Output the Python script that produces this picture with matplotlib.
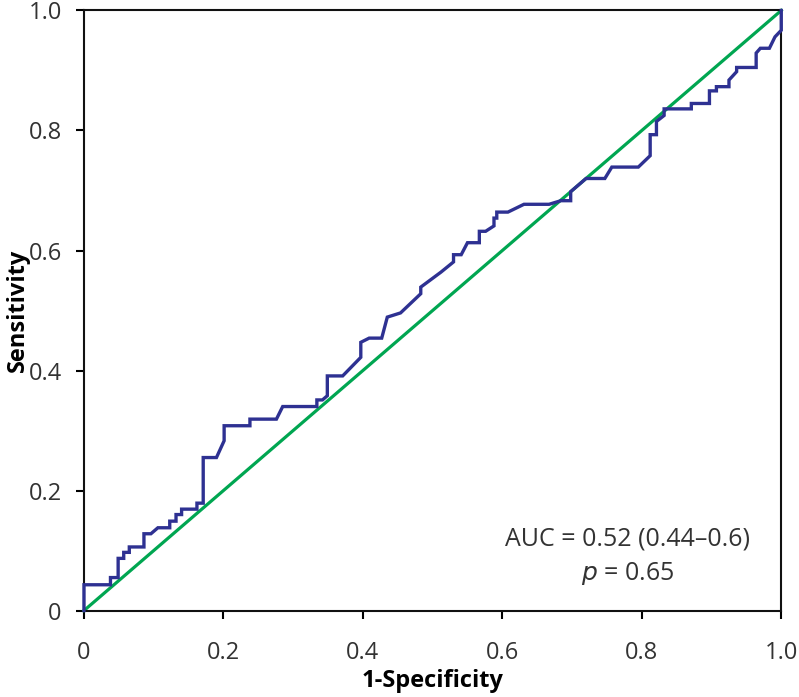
import matplotlib
matplotlib.use('Agg')
import matplotlib.pyplot as plt

plt.rcParams['font.family'] = ['Open Sans', 'DejaVu Sans']

# ROC curve vertices
fpr = [0.000, 0.000, 0.038, 0.038, 0.049, 0.049, 0.057, 0.057, 0.065, 0.065,
       0.086, 0.086, 0.096, 0.106, 0.123, 0.123, 0.132, 0.132, 0.140, 0.140,
       0.162, 0.162, 0.171, 0.171, 0.190, 0.201, 0.201, 0.238, 0.238, 0.276,
       0.285, 0.334, 0.334, 0.342, 0.349, 0.349, 0.371, 0.397, 0.397, 0.409,
       0.427, 0.435, 0.454, 0.483, 0.483, 0.512, 0.530, 0.530, 0.541, 0.550,
       0.567, 0.567, 0.576, 0.588, 0.588, 0.592, 0.592, 0.608, 0.631, 0.667,
       0.684, 0.698, 0.698, 0.720, 0.747, 0.757, 0.795, 0.812, 0.812, 0.821,
       0.821, 0.832, 0.832, 0.871, 0.871, 0.897, 0.897, 0.907, 0.907, 0.925,
       0.925, 0.936, 0.936, 0.964, 0.964, 0.970, 0.983, 0.991, 1.000, 1.000]
tpr = [0.000, 0.043, 0.043, 0.055, 0.055, 0.087, 0.087, 0.097, 0.097, 0.106,
       0.106, 0.128, 0.128, 0.138, 0.138, 0.149, 0.149, 0.160, 0.160, 0.169,
       0.169, 0.179, 0.179, 0.255, 0.255, 0.283, 0.308, 0.308, 0.319, 0.319,
       0.340, 0.340, 0.351, 0.351, 0.358, 0.391, 0.391, 0.422, 0.447, 0.454,
       0.454, 0.489, 0.496, 0.528, 0.539, 0.564, 0.581, 0.593, 0.593, 0.613,
       0.613, 0.632, 0.632, 0.641, 0.654, 0.654, 0.664, 0.664, 0.677, 0.677,
       0.683, 0.683, 0.698, 0.720, 0.720, 0.739, 0.739, 0.758, 0.793, 0.793,
       0.815, 0.825, 0.836, 0.836, 0.845, 0.845, 0.866, 0.866, 0.873, 0.873,
       0.884, 0.898, 0.905, 0.905, 0.929, 0.937, 0.937, 0.956, 0.967, 1.000]

ticks = [0, 0.2, 0.4, 0.6, 0.8, 1.0]
tick_labels = ['0', '0.2', '0.4', '0.6', '0.8', '1.0']

fig = plt.figure(figsize=(7.99, 6.97), dpi=100)
ax = fig.add_axes([0.1051, 0.124, 0.8727, 0.861])

ax.plot([0, 1], [0, 1], color='#00a651', lw=2.3, clip_on=False, zorder=2)
ax.plot(fpr, tpr, color='#2e3192', lw=2.4, clip_on=False, zorder=3,
        solid_joinstyle='miter')

ax.set_xlim(0, 1)
ax.set_ylim(0, 1)
ax.set_xticks(ticks)
ax.set_xticklabels(tick_labels)
ax.set_yticks(ticks)
ax.set_yticklabels(tick_labels)
ax.tick_params(direction='out', length=6, width=1.5, labelsize=17,
               labelcolor='#333333')
ax.tick_params(axis='x', pad=16)
ax.tick_params(axis='y', pad=10)
for s in ax.spines.values():
    s.set_linewidth(1.5)
    s.set_color('#111111')

ax.set_xlabel('1-Specificity', fontsize=17, fontweight='bold', labelpad=3)
ax.set_ylabel('Sensitivity', fontsize=17, fontweight='bold', labelpad=-1)

ax.text(0.780, 0.109, 'AUC = 0.52 (0.44–0.6)', transform=ax.transAxes,
        ha='center', va='baseline', fontsize=18, color='#333333')
ax.text(0.780, 0.051, '$\\it{p}$ = 0.65', transform=ax.transAxes,
        ha='center', va='baseline', fontsize=18, color='#333333')

fig.savefig('out.png', dpi=100)
